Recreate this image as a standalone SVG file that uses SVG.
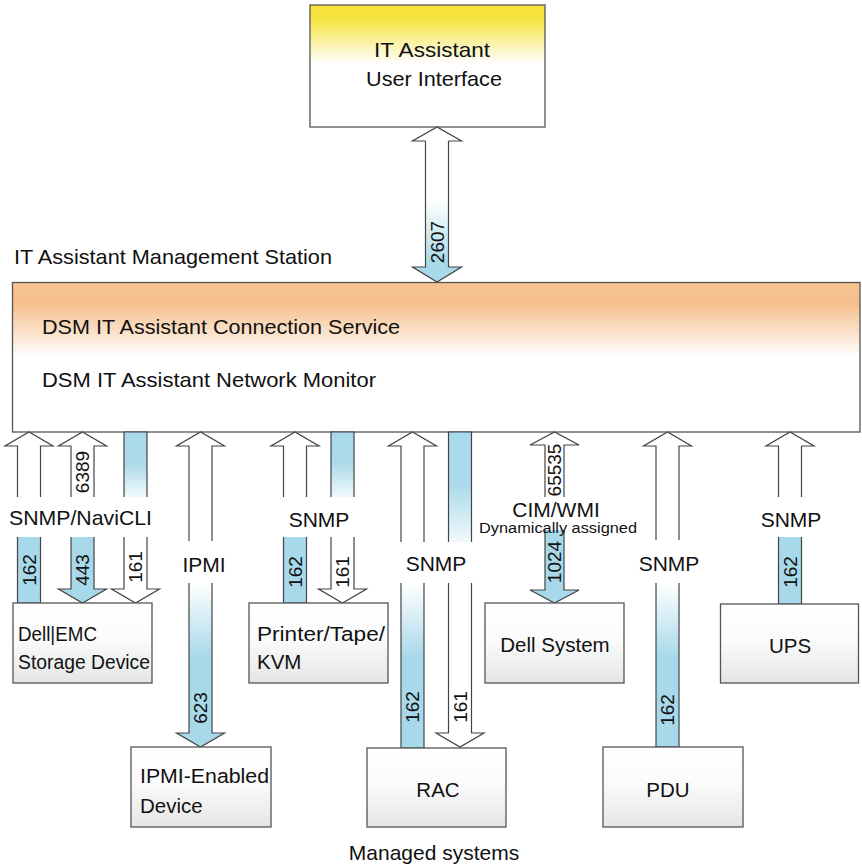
<svg xmlns="http://www.w3.org/2000/svg" width="862" height="868" viewBox="0 0 862 868">
<defs>
<linearGradient id="gYellow" x1="0" y1="0" x2="0" y2="1">
<stop offset="0" stop-color="#F6E23A"/><stop offset="0.12" stop-color="#F6E443"/><stop offset="0.48" stop-color="#FFFFFF"/><stop offset="1" stop-color="#FFFFFF"/>
</linearGradient>
<linearGradient id="gOrange" x1="0" y1="0" x2="0" y2="1">
<stop offset="0" stop-color="#F5C391"/><stop offset="0.14" stop-color="#F5BF8B"/><stop offset="0.5" stop-color="#FFFFFF"/><stop offset="1" stop-color="#FFFFFF"/>
</linearGradient>
<linearGradient id="gBox" x1="0" y1="0" x2="0" y2="1">
<stop offset="0" stop-color="#FFFFFF"/><stop offset="0.45" stop-color="#FBFBFB"/><stop offset="1" stop-color="#E4E5E6"/>
</linearGradient>
<linearGradient id="gBlueDown" x1="0" y1="0" x2="0" y2="1">
<stop offset="0" stop-color="#FFFFFF"/><stop offset="0.45" stop-color="#A8D9EA"/><stop offset="1" stop-color="#A8D9EA"/>
</linearGradient>
<linearGradient id="gBlueUp" x1="0" y1="0" x2="0" y2="1">
<stop offset="0" stop-color="#A8D9EA"/><stop offset="0.5" stop-color="#AEDBEB"/><stop offset="1" stop-color="#F2F9FC"/>
</linearGradient>
<linearGradient id="g2607" x1="0" y1="0" x2="0" y2="1">
<stop offset="0" stop-color="#FFFFFF"/><stop offset="0.42" stop-color="#FFFFFF"/><stop offset="0.86" stop-color="#A8D9EA"/><stop offset="1" stop-color="#A8D9EA"/>
</linearGradient>
</defs>
<style>
text{font-family:"Liberation Sans",Arial,sans-serif;fill:#111;}
.t{font-size:21px;}
.bl{font-size:20.5px;}
.n{font-size:19px;text-anchor:middle;dominant-baseline:central;}
.m{text-anchor:middle;}
.box{stroke:#555;stroke-width:1.3;fill:url(#gBox);}
.w{fill:#FFFFFF;stroke:#444;stroke-width:1.2;}
.b{fill:#A8D9EA;stroke:#444;stroke-width:1.2;}
.bd{fill:url(#gBlueDown);stroke:#444;stroke-width:1.2;}
.bu{fill:url(#gBlueUp);stroke:#444;stroke-width:1.2;}
</style>
<rect width="862" height="868" fill="#FFFFFF"/>

<g id="ui">
<rect x="310" y="5" width="235" height="122" fill="url(#gYellow)" stroke="#555" stroke-width="1.3"/>
<text class="t m" x="432" y="57" textLength="116" lengthAdjust="spacingAndGlyphs">IT Assistant</text>
<text class="t m" x="434" y="86" textLength="136" lengthAdjust="spacingAndGlyphs">User Interface</text>
</g>

<g id="station">
<text class="t" x="14" y="264" textLength="318" lengthAdjust="spacingAndGlyphs">IT Assistant Management Station</text>
<rect x="12.5" y="282.5" width="847.5" height="149.5" fill="url(#gOrange)" stroke="#555" stroke-width="1.3"/>
<text class="t" x="42" y="334" textLength="358" lengthAdjust="spacingAndGlyphs">DSM IT Assistant Connection Service</text>
<text class="t" x="42" y="387" textLength="334" lengthAdjust="spacingAndGlyphs">DSM IT Assistant Network Monitor</text>
</g>

<g id="connectors">
<!-- 2607 -->
<path d="M425.5,141 V267 H412.5 L437,282 L461.5,267 H448.5 V141" fill="url(#g2607)" stroke="#444" stroke-width="1.2"/>
<path d="M425.5,141 H412.5 L437,127 L461.5,141 H448.5" fill="#FFFFFF" stroke="#444" stroke-width="1.2"/>
<text class="n" transform="rotate(-90 437 242)" x="437" y="242">2607</text>

<!-- Storage -->
<path class="w" d="M17.5,497 V446 H5 L29,432 L53,446 H40.5 V497"/>
<path class="b" d="M17.5,537 V603 H40.5 V537"/>
<text class="n" transform="rotate(-90 29 570)" x="29" y="570">162</text>

<path class="w" d="M71,497 V446 H58.5 L82.5,432 L106.5,446 H94 V497"/>
<text class="n" transform="rotate(-90 82.5 472)" x="82.5" y="472">6389</text>
<path class="b" d="M71,537 V589 H58.5 L82.5,603 L106.5,589 H94 V537"/>
<text class="n" transform="rotate(-90 82.5 570)" x="82.5" y="570">443</text>

<path class="bu" d="M124,497 V432 H147 V497"/>
<path class="w" d="M124,537 V589 H111.5 L135.5,603 L159.5,589 H147 V537"/>
<text class="n" transform="rotate(-90 135.5 567)" x="135.5" y="567">161</text>

<text class="t m" x="80.5" y="525" textLength="143" lengthAdjust="spacingAndGlyphs">SNMP/NaviCLI</text>

<!-- IPMI -->
<path class="w" d="M189,541 V446 H176.5 L200.5,432 L224.5,446 H212 V541"/>
<path class="bd" d="M189,583 V733 H176.5 L200.5,747 L224.5,733 H212 V583"/>
<text class="n" transform="rotate(-90 200.5 708)" x="200.5" y="708">623</text>
<text class="t m" x="204" y="572">IPMI</text>

<!-- Printer -->
<path class="w" d="M283.5,497 V446 H271 L295,432 L319,446 H306.5 V497"/>
<path class="b" d="M283.5,537 V603 H306.5 V537"/>
<text class="n" transform="rotate(-90 295 572)" x="295" y="572">162</text>
<path class="bu" d="M331,497 V432 H354 V497"/>
<path class="w" d="M331,537 V589 H318.5 L342.5,603 L366.5,589 H354 V537"/>
<text class="n" transform="rotate(-90 342.5 572)" x="342.5" y="572">161</text>
<text class="t m" x="319" y="527">SNMP</text>

<!-- RAC -->
<path class="w" d="M401,542 V446 H388.5 L412.5,432 L436.5,446 H424 V542"/>
<path class="bd" d="M401,583 V748 H424 V583"/>
<text class="n" transform="rotate(-90 412.5 707)" x="412.5" y="707">162</text>
<path class="bu" d="M448.5,542 V432 H471.5 V542"/>
<path class="w" d="M448.5,583 V733 H436 L460,747 L484,733 H471.5 V583"/>
<text class="n" transform="rotate(-90 460 707)" x="460" y="707">161</text>
<text class="t m" x="436" y="571">SNMP</text>

<!-- Dell System -->
<path class="w" d="M545,497 V445 H530 L554.5,432 L579,445 H564 V497"/>
<text class="n" transform="rotate(-90 554.5 470)" x="554.5" y="470">65535</text>
<path class="b" d="M545,530 V590 H530 L554.5,603 L579,590 H564 V530"/>
<text class="n" transform="rotate(-90 554.5 562)" x="554.5" y="562">1024</text>
<text class="t m" x="556" y="517">CIM/WMI</text>
<text class="m" x="558" y="533" font-size="15.5" textLength="158" lengthAdjust="spacingAndGlyphs">Dynamically assigned</text>

<!-- PDU -->
<path class="w" d="M656,540 V446 H643.5 L667.5,432 L691.5,446 H679 V540"/>
<path class="bd" d="M656,583 V747 H679 V583"/>
<text class="n" transform="rotate(-90 667.5 710)" x="667.5" y="710">162</text>
<text class="t m" x="669" y="571">SNMP</text>

<!-- UPS -->
<path class="w" d="M778.5,497 V446 H766 L790,432 L814,446 H801.5 V497"/>
<path class="b" d="M778.5,537 V604 H801.5 V537"/>
<text class="n" transform="rotate(-90 790 572)" x="790" y="572">162</text>
<text class="t m" x="791" y="527">SNMP</text>
</g>

<g id="storage">
<rect class="box" x="13" y="603" width="139" height="80"/>
<text class="bl" x="18" y="641" textLength="79" lengthAdjust="spacingAndGlyphs">Dell|EMC</text>
<text class="bl" x="18" y="669" textLength="132" lengthAdjust="spacingAndGlyphs">Storage Device</text>
</g>
<g id="printer">
<rect class="box" x="249" y="603" width="139" height="80"/>
<text class="bl" x="257" y="641" textLength="128" lengthAdjust="spacingAndGlyphs">Printer/Tape/</text>
<text class="bl" x="257" y="669">KVM</text>
</g>
<g id="dellsystem">
<rect class="box" x="485" y="603" width="139" height="80"/>
<text class="bl m" x="555" y="652">Dell System</text>
</g>
<g id="ups">
<rect class="box" x="720.5" y="604" width="138" height="79"/>
<text class="bl m" x="790" y="653">UPS</text>
</g>
<g id="ipmidevice">
<rect class="box" x="131" y="747" width="140" height="80"/>
<text class="bl" x="140" y="783" textLength="129" lengthAdjust="spacingAndGlyphs">IPMI-Enabled</text>
<text class="bl" x="140" y="813">Device</text>
</g>
<g id="rac">
<rect class="box" x="367" y="748" width="139" height="79"/>
<text class="bl m" x="438" y="797">RAC</text>
</g>
<g id="pdu">
<rect class="box" x="603" y="747" width="140" height="80"/>
<text class="bl m" x="668" y="797">PDU</text>
</g>
<text class="t m" x="434" y="860">Managed systems</text>
</svg>
